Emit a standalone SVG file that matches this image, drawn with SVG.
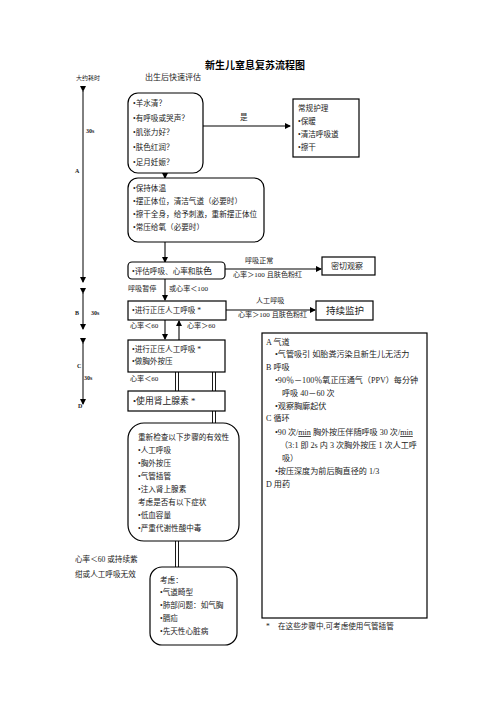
<svg xmlns="http://www.w3.org/2000/svg" width="496" height="702" viewBox="0 0 496 702">
<defs>
<marker id="ah" markerWidth="6" markerHeight="6" refX="5" refY="3" orient="auto" markerUnits="userSpaceOnUse"><path d="M0,0 L6,3 L0,6 Z" fill="#000"/></marker>
<style>
text{font-family:"Liberation Serif","Noto Sans CJK SC",serif;fill:#222;font-size:7.6px}
.t{font-family:"Noto Sans CJK SC",sans-serif;font-weight:bold;font-size:10px;fill:#000}
.s{font-size:6px}
.r{font-size:8.1px}
.l{font-size:7.1px}
.box{fill:#fff;stroke:#000;stroke-width:1.2}
.ln{stroke:#555;stroke-width:1.6;fill:none}
.ax{stroke:#000;stroke-width:1;fill:none}
.db{stroke:#000;stroke-width:0.9;fill:none}
</style>
</defs>
<rect width="496" height="702" fill="#fff"/>
<text class="t" x="255" y="69" text-anchor="middle">新生儿窒息复苏流程图</text>
<text class="s" x="76" y="80">大约耗时</text>
<text x="145" y="80" style="font-size:8px">出生后快速评估</text>

<g id="axes">
<line class="ax" x1="83" y1="91" x2="83" y2="282" marker-start="url(#ah)" marker-end="url(#ah)"/>
<text class="s" x="86" y="133" style="font-weight:bold">30s</text>
<text class="s" x="75" y="173" style="font-weight:bold">A</text>
<line class="ax" x1="83" y1="293" x2="83" y2="329" marker-start="url(#ah)" marker-end="url(#ah)"/>
<text class="s" x="75" y="315" style="font-weight:bold">B</text>
<text class="s" x="91" y="315" style="font-weight:bold">30s</text>
<line class="ax" x1="83" y1="343" x2="83" y2="404" marker-start="url(#ah)" marker-end="url(#ah)"/>
<text class="s" x="77" y="368" style="font-weight:bold">C</text>
<text class="s" x="84" y="380" style="font-weight:bold">30s</text>
<text class="s" x="78" y="408" style="font-weight:bold">D</text>
</g>

<g id="connectors">
<line class="ln" x1="203" y1="126" x2="290" y2="126" marker-end="url(#ah)"/>
<text x="240" y="120">是</text>
<line class="ax" x1="165" y1="173" x2="165" y2="178" marker-end="url(#ah)"/>
<text x="181" y="172">否</text>
<line class="ln" x1="165" y1="242" x2="165" y2="262" marker-end="url(#ah)"/>
<line class="ln" x1="225" y1="269" x2="321" y2="269" marker-end="url(#ah)"/>
<text class="l" x="245" y="263">呼吸正常</text>
<text class="l" x="233" y="277">心率＞100 且肤色粉红</text>
<text class="l" x="128" y="291">呼吸暂停</text>
<text class="l" x="169" y="291">或心率＜100</text>
<line class="ln" x1="165" y1="279" x2="165" y2="300" marker-end="url(#ah)"/>
<line class="ln" x1="226" y1="310" x2="315" y2="310" marker-end="url(#ah)"/>
<text class="l" x="256" y="303">人工呼吸</text>
<text class="l" x="238" y="317">心率＞100 且肤色粉红</text>
<text class="l" x="130" y="328">心率＜60</text>
<text class="l" x="187" y="328">心率＞60</text>
<line class="ln" x1="165" y1="320" x2="165" y2="339" marker-end="url(#ah)"/>
<line class="ln" x1="179" y1="340" x2="179" y2="321" marker-end="url(#ah)"/>
<text class="l" x="130" y="381">心率＜60</text>
<path class="db" d="M175.5,372 L175.5,391 M178.5,372 L178.5,391"/>
<path class="db" d="M212.5,372 L212.5,424 M215.5,372 L215.5,424"/>
<path class="db" d="M175.5,541 L175.5,568 M178.5,541 L178.5,568"/>
<text x="75" y="562">心率＜60 或持续紫</text>
<text x="75" y="577">绀或人工呼吸无效</text>
</g>

<g id="n1">
<rect class="box" x="128" y="93" width="75" height="80" rx="10"/>
<text x="133" y="106">•羊水清？</text>
<text x="133" y="121">•有呼吸或哭声？</text>
<text x="133" y="135">•肌张力好？</text>
<text x="133" y="150">•肤色红润？</text>
<text x="133" y="165">•足月妊娠？</text>
</g>

<g id="n2">
<rect class="box" x="293" y="99" width="66" height="58"/>
<text x="298" y="111">常规护理</text>
<text x="298" y="124">•保暖</text>
<text x="298" y="137">•清洁呼吸道</text>
<text x="298" y="150">•擦干</text>
</g>

<g id="n3">
<rect class="box" x="128" y="178" width="136" height="64" rx="10"/>
<text x="133" y="191">•保持体温</text>
<text x="133" y="204">•摆正体位，清洁气道（必要时）</text>
<text x="133" y="217">•擦干全身，给予刺激，重新摆正体位</text>
<text x="133" y="230">•常压给氧（必要时）</text>
</g>

<g id="n4">
<rect class="box" x="128" y="262" width="97" height="17" rx="4"/>
<text x="132" y="274">•评估呼吸、心率和肤<tspan style="font-size:9px">色</tspan></text>
</g>

<g id="n5">
<rect class="box" x="322" y="257" width="53" height="18"/>
<text x="331" y="269" style="font-size:8px">密切观察</text>
</g>

<g id="n6">
<rect class="box" x="128" y="301" width="98" height="19"/>
<text x="132" y="313">•进行正压人工呼吸 *</text>
</g>

<g id="n7">
<rect class="box" x="316" y="301" width="57" height="19"/>
<text x="326" y="314" style="font-size:9.5px">持续监护</text>
</g>

<g id="n8">
<rect class="box" x="128" y="340" width="97" height="32"/>
<text x="132" y="352">•进行正压人工呼吸 *</text>
<text x="132" y="364">•做胸外按压</text>
</g>

<g id="n9">
<rect class="box" x="128" y="391" width="97" height="20"/>
<text x="133" y="404" style="font-size:8.8px">•使用肾上腺素 *</text>
</g>

<g id="n10">
<rect class="box" x="128" y="423" width="111" height="118" rx="16"/>
<text x="138" y="440">重新检查以下步骤的有效性</text>
<text x="138" y="453">•人工呼吸</text>
<text x="138" y="466">•胸外按压</text>
<text x="138" y="479">•气管插管</text>
<text x="138" y="492">•注入肾上腺素</text>
<text x="138" y="505">考虑是否有以下症状</text>
<text x="138" y="518">•低血容量</text>
<text x="138" y="531">•严重代谢性酸中毒</text>
</g>

<g id="n11">
<rect class="box" x="150" y="567" width="87" height="78" rx="12"/>
<text x="160" y="583">考虑：</text>
<text x="160" y="595">•气道畸型</text>
<text x="160" y="608">•肺部问题：如气胸</text>
<text x="160" y="621">•膈疝</text>
<text x="160" y="634">•先天性心脏病</text>
</g>

<g id="n12">
<rect class="box" x="262" y="333" width="165" height="285"/>
<text class="r" x="266" y="345">A 气道</text>
<text class="r" x="275" y="357">•气管吸引   如胎粪污染且新生儿无活力</text>
<text class="r" x="266" y="370">B  呼吸</text>
<text class="r" x="275" y="383">•90％－100％氧正压通气（PPV）每分钟</text>
<text class="r" x="282" y="396">呼吸 40－60 次</text>
<text class="r" x="275" y="409">•观察胸廓起伏</text>
<text class="r" x="266" y="421">C 循环</text>
<text class="r" x="275" y="435">•90 次/<tspan text-decoration="underline">min</tspan>  胸外按压伴随呼吸  30  次/<tspan text-decoration="underline">min</tspan></text>
<text class="r" x="280" y="448">（3:1 即 2s 内 3 次胸外按压 1 次人工呼</text>
<text class="r" x="282" y="461">吸）</text>
<text class="r" x="275" y="474">•按压深度为前后胸直径的 1/3</text>
<text class="r" x="266" y="487">D  用药</text>
</g>

<text x="266" y="629">*</text>
<text x="278" y="629">在这些步骤中,可考虑使用气管插管</text>
</svg>
